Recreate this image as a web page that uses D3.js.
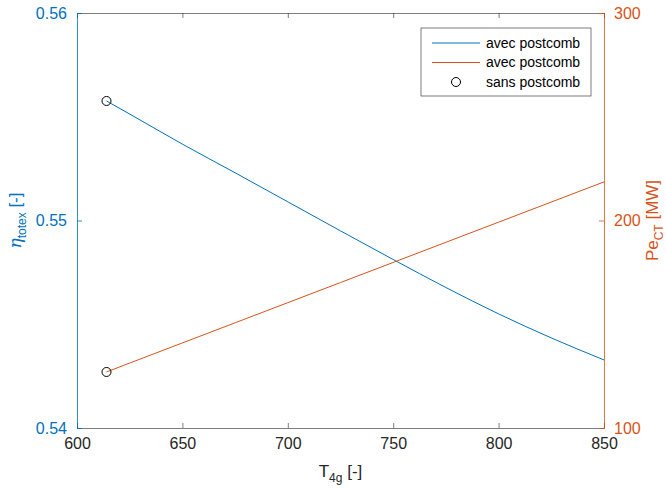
<!DOCTYPE html>
<html>
<head>
<meta charset="utf-8">
<script src="https://cdn.jsdelivr.net/npm/d3@7"></script>
<style>
  body { margin: 0; background: #fff; }
  text { font-family: "Liberation Sans", Arial, Helvetica, sans-serif; }
</style>
</head>
<body>
<div id="chart"></div>
<script>
// temperature T4g (x)
var temps = [614, 625, 650, 675, 700, 725, 750, 775, 800, 825, 850];
// rendement eta_totex (left axis), avec postcomb
var etaValues = [0.55576, 0.55513, 0.55368, 0.55230, 0.55090, 0.54950, 0.54812, 0.54677, 0.54550, 0.54434, 0.54328];
// puissance Pe_CT [MW] (right axis), avec postcomb
var peValues = [127, 131.3, 141, 150.7, 160.4, 170.1, 179.8, 189.5, 199.2, 208.9, 218.6];
// point sans postcomb
var sansT = [614];
var sansEta = [0.55576];
var sansPe = [127];

var xTicks = [600, 650, 700, 750, 800, 850];
var leftTicks = [0.54, 0.55, 0.56];
var rightTicks = [100, 200, 300];
var legendLabels = ["avec postcomb", "avec postcomb", "sans postcomb"];

var blue = "#0072BD";
var orange = "#D95319";
var dark = "#262626";

var margin = { top: 13, right: 62, bottom: 60, left: 77 };
var width = 666 - margin.left - margin.right;
var height = 488 - margin.top - margin.bottom;

var svg = d3.select('#chart')
        .append('svg')
        .attr('width', 666)
        .attr('height', 488)
        .append('g')
        .attr('transform', 'translate(' + margin.left + ',' + margin.top + ")");

var x = d3.scaleLinear().domain([600, 850]).range([0, width]);
var yL = d3.scaleLinear().domain([0.54, 0.56]).range([height, 0]);
var yR = d3.scaleLinear().domain([100, 300]).range([height, 0]);

var data = temps.map(function(t, i) {
    return { t: t, eta: etaValues[i], pe: peValues[i] };
});

// top border with mirrored ticks
svg.append("g")
    .call(d3.axisTop(x).tickValues(xTicks).tickSize(-5).tickFormat(""))
    .call(function(g) {
        g.select(".domain").attr("stroke", dark).attr("stroke-width", 0.6);
        g.selectAll(".tick line").attr("stroke", dark).attr("stroke-width", 0.6);
    });

// x axis
svg.append("g")
    .attr("transform", "translate(0," + height + ")")
    .call(d3.axisBottom(x).tickValues(xTicks).tickSize(-5).tickPadding(10))
    .call(function(g) {
        g.select(".domain").attr("stroke", dark).attr("stroke-width", 0.6);
        g.selectAll(".tick line").attr("stroke", dark).attr("stroke-width", 0.6);
        g.selectAll(".tick text").attr("fill", dark).style("font-size", "16px")
            .style("font-family", "'Liberation Sans', Arial, sans-serif");
    });

// left axis
svg.append("g")
    .call(d3.axisLeft(yL).tickValues(leftTicks).tickSize(-5).tickPadding(10).tickFormat(d3.format(".2f")))
    .call(function(g) {
        g.select(".domain").attr("stroke", blue).attr("stroke-width", 0.8);
        g.selectAll(".tick line").attr("stroke", blue).attr("stroke-width", 0.8);
        g.selectAll(".tick text").attr("fill", blue).style("font-size", "16px")
            .style("font-family", "'Liberation Sans', Arial, sans-serif");
    });

// right axis
svg.append("g")
    .attr("transform", "translate(" + width + ",0)")
    .call(d3.axisRight(yR).tickValues(rightTicks).tickSize(-5).tickPadding(10))
    .call(function(g) {
        g.select(".domain").attr("stroke", orange).attr("stroke-width", 0.8);
        g.selectAll(".tick line").attr("stroke", orange).attr("stroke-width", 0.8);
        g.selectAll(".tick text").attr("fill", orange).style("font-size", "16px")
            .style("font-family", "'Liberation Sans', Arial, sans-serif");
    });

// lines
var lineL = d3.line()
    .curve(d3.curveMonotoneX)
    .x(function(d) { return x(d.t); })
    .y(function(d) { return yL(d.eta); });
var lineR = d3.line()
    .x(function(d) { return x(d.t); })
    .y(function(d) { return yR(d.pe); });

svg.append("path")
    .attr("d", lineL(data))
    .attr("fill", "none")
    .attr("stroke", blue)
    .attr("stroke-width", 1);

svg.append("path")
    .attr("d", lineR(data))
    .attr("fill", "none")
    .attr("stroke", orange)
    .attr("stroke-width", 1);

// markers sans postcomb
svg.selectAll(".mkL")
    .data(sansT)
    .enter().append("circle")
    .attr("class", "mkL")
    .attr("cx", function(d) { return x(d); })
    .attr("cy", function(d, i) { return yL(sansEta[i]); })
    .attr("r", 4.5)
    .attr("fill", "none")
    .attr("stroke", "#000")
    .attr("stroke-width", 1);

svg.selectAll(".mkR")
    .data(sansT)
    .enter().append("circle")
    .attr("class", "mkR")
    .attr("cx", function(d) { return x(d); })
    .attr("cy", function(d, i) { return yR(sansPe[i]); })
    .attr("r", 4.5)
    .attr("fill", "none")
    .attr("stroke", "#000")
    .attr("stroke-width", 1);

// axis labels
svg.append("text")
    .attr("x", width / 2)
    .attr("y", height + 49)
    .attr("text-anchor", "middle")
    .attr("fill", dark)
    .style("font-size", "17px")
    .call(function(t) {
        t.append("tspan").text("T");
        t.append("tspan").attr("dy", 5).style("font-size", "12px").text("4g");
        t.append("tspan").attr("dy", -5).text(" [-]");
    });

svg.append("text")
    .attr("transform", "translate(" + (-56) + "," + (height / 2) + ") rotate(-90)")
    .attr("text-anchor", "middle")
    .attr("fill", blue)
    .style("font-size", "17px")
    .call(function(t) {
        t.append("tspan").style("font-family", "'DejaVu Serif', serif").style("font-style", "italic").text("η");
        t.append("tspan").attr("dy", 5).style("font-size", "12px").text("totex");
        t.append("tspan").attr("dy", -5).text(" [-]");
    });

svg.append("text")
    .attr("transform", "translate(" + (width + 54) + "," + (height / 2) + ") rotate(-90)")
    .attr("text-anchor", "middle")
    .attr("fill", orange)
    .style("font-size", "17px")
    .call(function(t) {
        t.append("tspan").text("Pe");
        t.append("tspan").attr("dy", 5).style("font-size", "12px").text("CT");
        t.append("tspan").attr("dy", -5).text(" [MW]");
    });

// legend
var legend = svg.append("g")
    .attr("transform", "translate(" + (421 - margin.left) + "," + (28 - margin.top) + ")");

legend.append("rect")
    .attr("width", 170)
    .attr("height", 68)
    .attr("fill", "#fff")
    .attr("stroke", dark)
    .attr("stroke-width", 0.6);

var items = legend.selectAll(".legend")
    .data(legendLabels)
    .enter().append("g")
    .attr("class", "legend")
    .attr("transform", function(d, i) { return "translate(0," + (15 + i * 19.5) + ")"; });

items.each(function(d, i) {
    var g = d3.select(this);
    if (i < 2) {
        g.append("line")
            .attr("x1", 11).attr("x2", 59)
            .attr("y1", 0).attr("y2", 0)
            .attr("stroke", i == 0 ? blue : orange)
            .attr("stroke-width", 1);
    } else {
        g.append("circle")
            .attr("cx", 35).attr("cy", 0).attr("r", 4.5)
            .attr("fill", "none").attr("stroke", "#000");
    }
});

items.append("text")
    .attr("x", 65)
    .attr("y", 0)
    .attr("dy", ".35em")
    .attr("fill", "#000")
    .style("font-size", "14px")
    .text(function(d) { return d; });
</script>
</body>
</html>
